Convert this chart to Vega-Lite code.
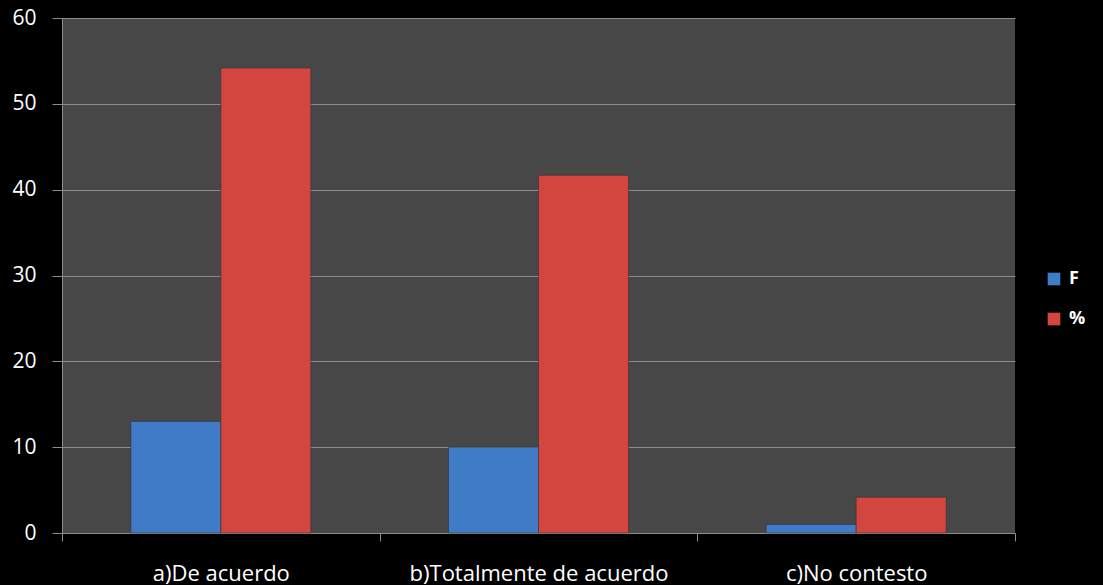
{
  "$schema": "https://vega.github.io/schema/vega-lite/v6.json",
  "autosize": "none",
  "width": 953,
  "height": 515,
  "padding": {"left": 62, "top": 18, "right": 88, "bottom": 52},
  "background": "#000000",
  "config": {
    "view": {"fill": "#474747", "stroke": null},
    "font": "Open Sans"
  },
  "data": {
    "values": [
      {"categoria": "a)De acuerdo", "serie": "F", "valor": 13},
      {"categoria": "a)De acuerdo", "serie": "%", "valor": 54.17},
      {"categoria": "b)Totalmente de acuerdo", "serie": "F", "valor": 10},
      {"categoria": "b)Totalmente de acuerdo", "serie": "%", "valor": 41.67},
      {"categoria": "c)No contesto", "serie": "F", "valor": 1},
      {"categoria": "c)No contesto", "serie": "%", "valor": 4.17}
    ]
  },
  "mark": {"type": "bar", "stroke": "#2a2a2a", "strokeWidth": 0.5},
  "encoding": {
    "x": {
      "field": "categoria",
      "type": "nominal",
      "sort": null,
      "scale": {"paddingInner": 0, "paddingOuter": 0},
      "axis": {
        "title": null,
        "labelAngle": 0,
        "labelColor": "#ffffff",
        "labelFontSize": 22,
        "labelLimit": 400,
        "labelPadding": 22,
        "tickBand": "extent",
        "tickSize": 8,
        "tickColor": "#8c8c8c",
        "domainColor": "#8c8c8c",
        "grid": false
      }
    },
    "xOffset": {"field": "serie", "type": "nominal", "sort": ["F", "%"], "scale": {"paddingInner": 0, "paddingOuter": 0.765}},
    "y": {
      "field": "valor",
      "type": "quantitative",
      "scale": {"domain": [0, 60]},
      "axis": {
        "title": null,
        "values": [0, 10, 20, 30, 40, 50, 60],
        "labelColor": "#ffffff",
        "labelFontSize": 21,
        "labelPadding": 16,
        "tickSize": 10,
        "tickColor": "#8c8c8c",
        "domainColor": "#8c8c8c",
        "gridColor": "#8c8c8c",
        "gridWidth": 1
      }
    },
    "color": {
      "field": "serie",
      "type": "nominal",
      "sort": ["F", "%"],
      "scale": {"domain": ["F", "%"], "range": ["#3f7bc6", "#d2463f"]},
      "legend": {
        "title": null,
        "orient": "none",
        "legendX": 983,
        "legendY": 252,
        "symbolType": "square",
        "symbolSize": 160,
        "symbolStrokeWidth": 0,
        "labelColor": "#ffffff",
        "labelFontSize": 18,
        "labelFontWeight": "bold",
        "rowPadding": 22,
        "labelOffset": 6
      }
    }
  }
}
